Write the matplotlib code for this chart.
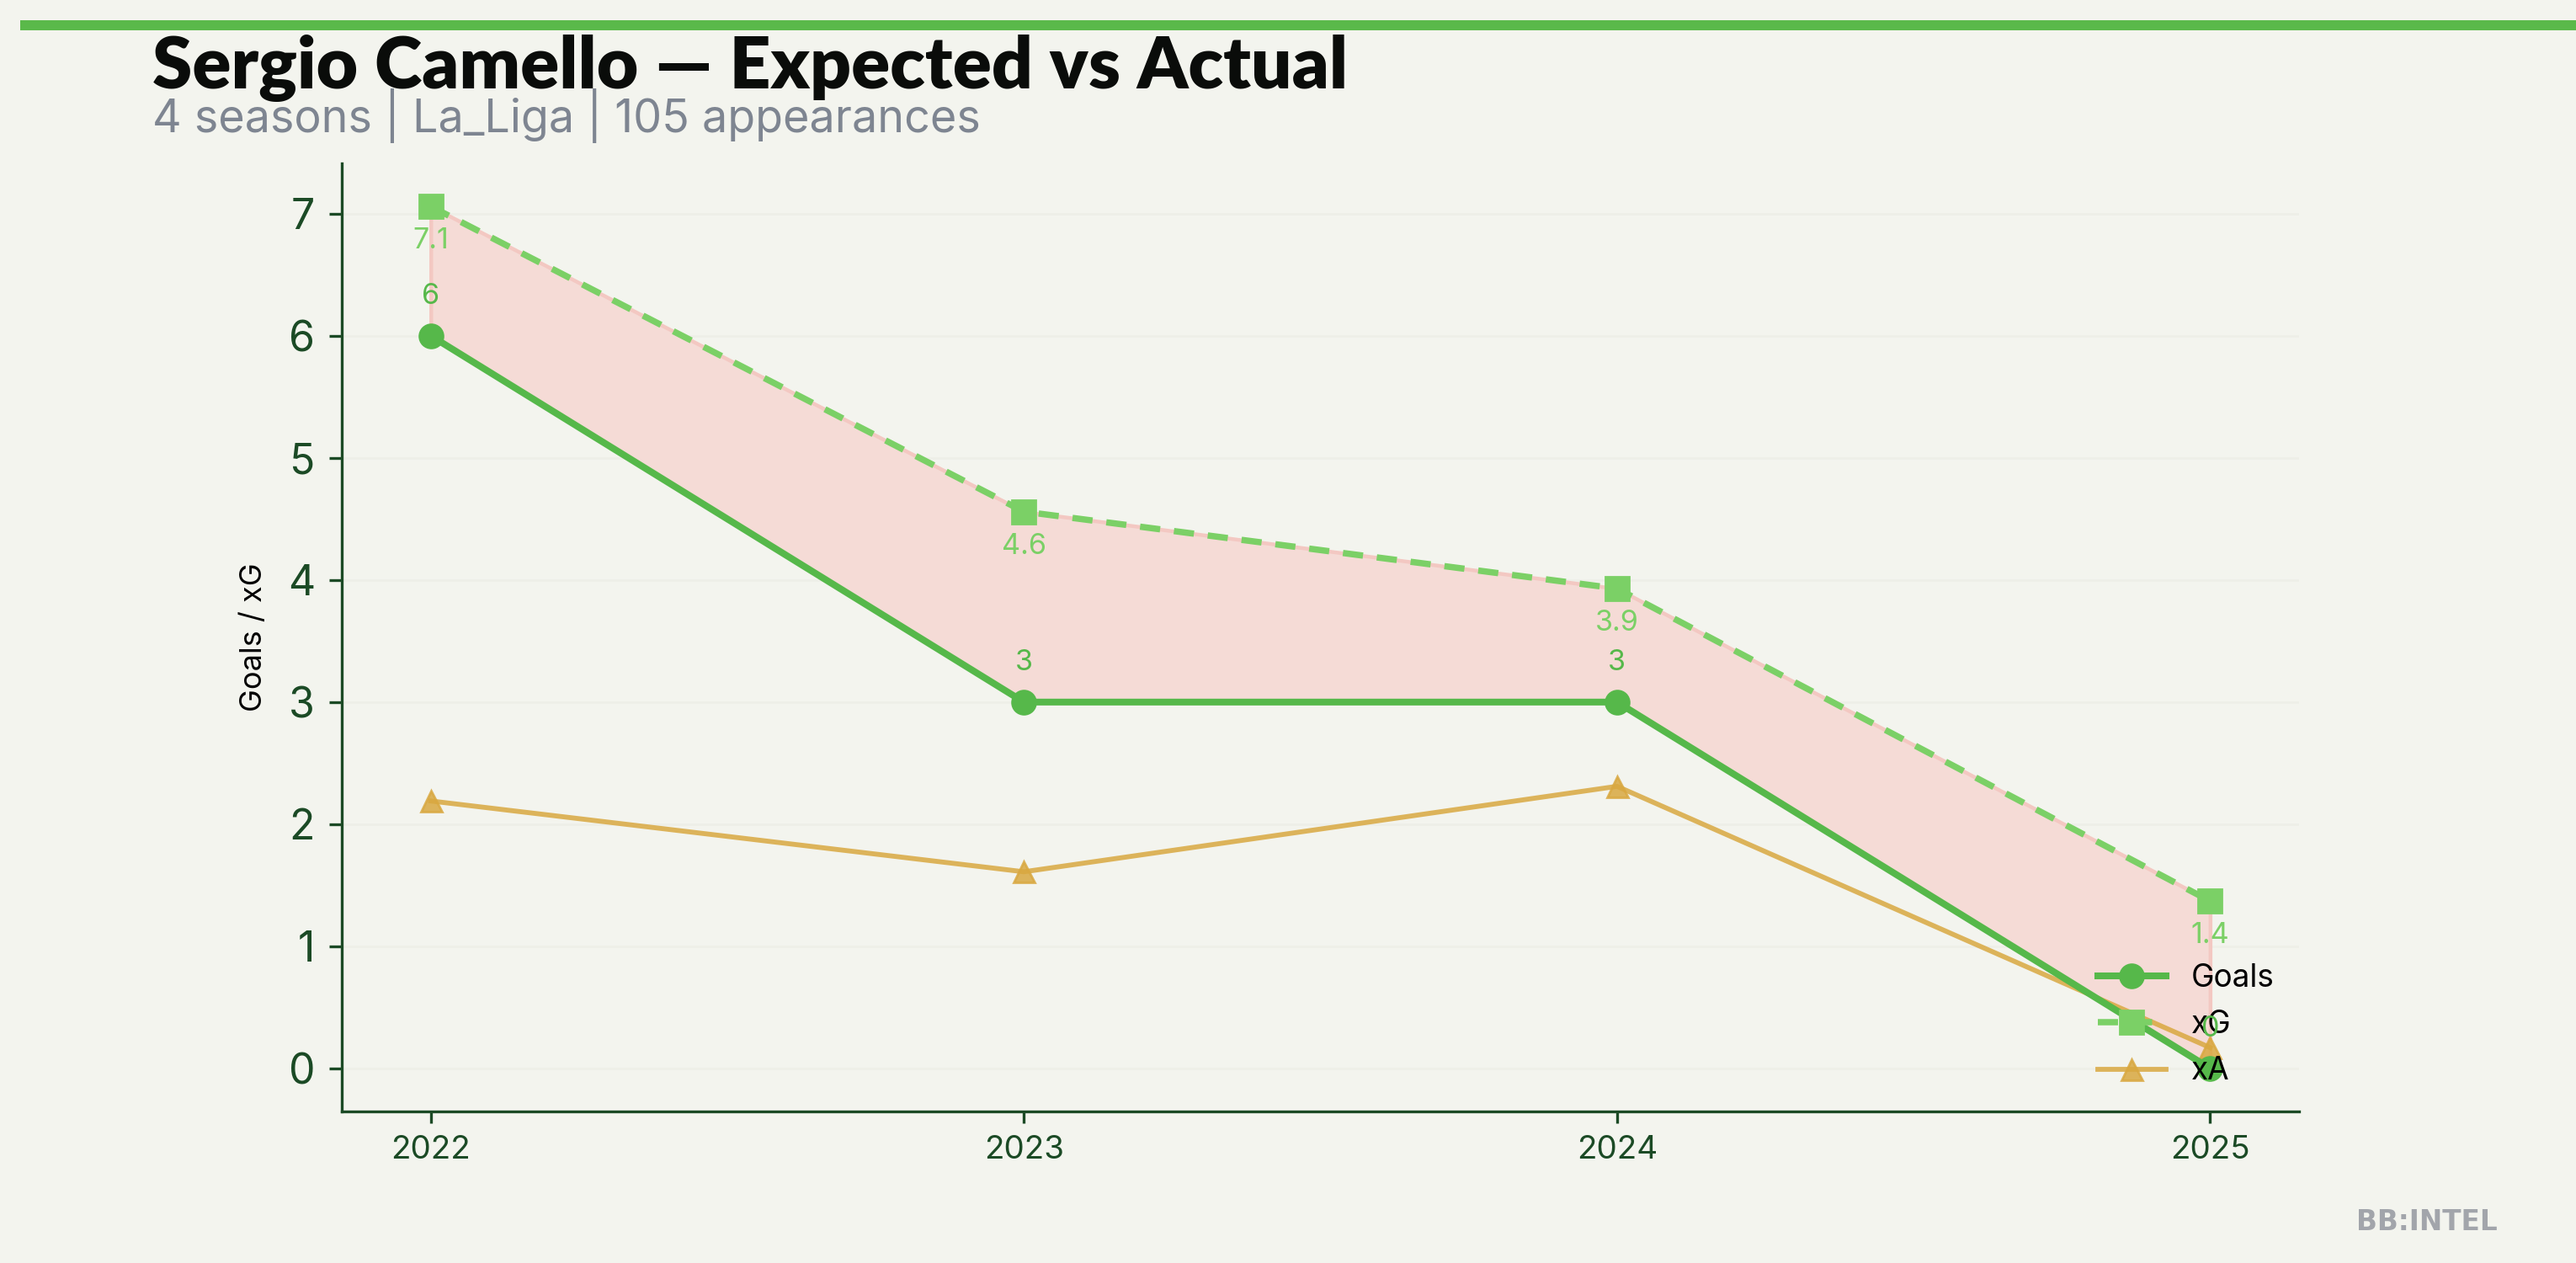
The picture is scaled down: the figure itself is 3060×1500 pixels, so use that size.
import matplotlib
matplotlib.use("Agg")
import matplotlib.pyplot as plt
from matplotlib.lines import Line2D

# ---- data ----
seasons = [2022, 2023, 2024, 2025]
goals = [6, 3, 3, 0]
xg = [7.06, 4.56, 3.93, 1.37]
xa = [2.19, 1.61, 2.31, 0.17]
goal_labels = ["6", "3", "3", "0"]
xg_labels = ["7.1", "4.6", "3.9", "1.4"]
yticks = [0, 1, 2, 3, 4, 5, 6, 7]

title = "Sergio Camello \u2014 Expected vs Actual"
subtitle = "4 seasons | La_Liga | 105 appearances"
ylabel = "Goals / xG"
watermark = "BB:INTEL"

BG = "#f3f4ee"
DARK = "#1b4a25"
GOALS_C = "#56b84a"
XG_C = "#7bd066"
XA_C = "#d9a840"

plt.rcParams["font.family"] = ["Inter", "DejaVu Sans"]

fig = plt.figure(figsize=(15.3, 7.5), dpi=200, facecolor=BG)
ax = fig.add_axes([0.1327, 0.12, 0.8925 - 0.1327, 0.8707 - 0.12])
ax.set_facecolor(BG)

ax.fill_between(seasons, goals, xg, facecolor="#f5dbd6", edgecolor="#f3c8c2",
                linewidth=1.6, zorder=1)
ax.plot(seasons, goals, color=GOALS_C, lw=2.9, marker="o", ms=10, label="Goals", zorder=4)
ax.plot(seasons, xg, color=XG_C, lw=2.7, ls=(0, (3.2, 2.2)), marker="s", ms=10, label="xG", zorder=3)
ax.plot(seasons, xa, color=XA_C, lw=2.1, marker="^", ms=9, alpha=0.85, label="xA", zorder=2)

for x, y, t in zip(seasons, goals, goal_labels):
    ax.annotate(t, (x, y), xytext=(0, 11), textcoords="offset points",
                ha="center", va="bottom", color=GOALS_C, fontsize=12.3, zorder=6)
for x, y, t in zip(seasons, xg, xg_labels):
    ax.annotate(t, (x, y), xytext=(0, -9), textcoords="offset points",
                ha="center", va="top", color=XG_C, fontsize=12.3, zorder=6)

ax.set_xticks(seasons)
ax.set_xticklabels([str(s) for s in seasons])
ax.set_yticks(yticks)
ax.grid(axis="y", color="#eeefe8", lw=1.0, zorder=0)
ax.set_axisbelow(True)

for s in ["top", "right"]:
    ax.spines[s].set_visible(False)
for s in ["left", "bottom"]:
    ax.spines[s].set_color(DARK)
    ax.spines[s].set_linewidth(1.2)
ax.tick_params(axis="x", colors=DARK, labelsize=13.9, length=5, width=1.2, pad=5)
ax.tick_params(axis="y", colors=DARK, labelsize=18, length=5.5, width=1.2, pad=6)

ax.set_ylabel(ylabel, fontsize=13, color="black")
ax.yaxis.set_label_coords(-0.038, 0.5)

leg = ax.legend(loc="lower right", frameon=False, fontsize=13.3, labelspacing=0.52,
                handlelength=2.2, borderaxespad=0.4)

# top bar
fig.add_artist(Line2D([0.008, 1.0], [0.98, 0.98], color="#5ab94a", lw=4.3,
                      transform=fig.transFigure, solid_capstyle="butt"))

fig.text(0.0592, 0.930, title, fontsize=30.8, fontweight="heavy",
         family=["Lato", "DejaVu Sans"], color="#0a0c0a", va="baseline", ha="left")
fig.text(0.0592, 0.8953, subtitle, fontsize=19.4, color="#7e8591", va="baseline", ha="left")
fig.text(0.9696, 1 - 1461 / 1500, watermark, fontsize=11.8, fontweight="bold",
         family=["DejaVu Sans"], color="#a2a5ab", va="baseline", ha="right")

fig.savefig("out.png", dpi=200, facecolor=BG)
